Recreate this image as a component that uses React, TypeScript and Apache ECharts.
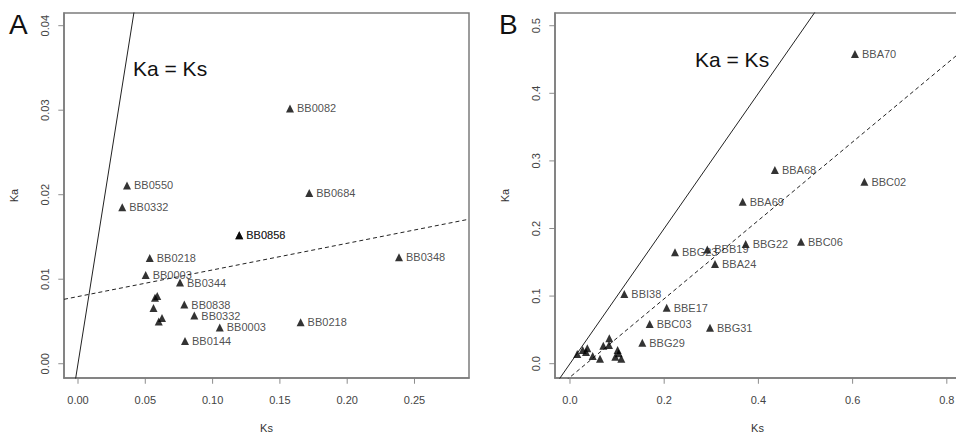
import React, { useEffect, useRef } from "react";
import * as echarts from "echarts";

// ---------- Panel A data ----------
const namesA = ["BB0082", "BB0684", "BB0550", "BB0332", "BB0858", "BB0856", "BB0218", "BB0003", "BB0344", "BB0348", "BB0838", "BB0332", "BB0003", "BB0218", "BB0144", "", "", "", "", ""];
const ksA = [0.1575, 0.1718, 0.0364, 0.0329, 0.1198, 0.1198, 0.0533, 0.0503, 0.0758, 0.2385, 0.079, 0.0864, 0.1053, 0.1654, 0.0795, 0.0572, 0.0589, 0.0561, 0.06, 0.0624];
const kaA = [0.0302, 0.0202, 0.0211, 0.0185, 0.0152, 0.0152, 0.0125, 0.0105, 0.0096, 0.0126, 0.007, 0.0057, 0.0043, 0.0049, 0.0027, 0.0078, 0.008, 0.0066, 0.005, 0.0054];
const identityA = [[-0.01, -0.01], [0.05, 0.05]];
const regressionA = [[-0.0104, 0.00762], [0.2905, 0.0171]];
const xTickValsA = [0, 0.05, 0.1, 0.15, 0.2, 0.25];
const xTickLabelsA = ["0.00", "0.05", "0.10", "0.15", "0.20", "0.25"];
const yTickValsA = [0, 0.01, 0.02, 0.03, 0.04];
const yTickLabelsA = ["0.00", "0.01", "0.02", "0.03", "0.04"];

// ---------- Panel B data ----------
const namesB = ["BBA70", "BBA68", "BBC02", "BBA69", "BBG22", "BBC06", "BBB19", "BBG23", "BBA24", "BBI38", "BBE17", "BBC03", "BBG29", "BBG31", "", "", "", "", "", "", "", "", "", "", "", "", ""];
const ksB = [0.605, 0.435, 0.625, 0.3666, 0.373, 0.4904, 0.2915, 0.2229, 0.3079, 0.1153, 0.2053, 0.1692, 0.1535, 0.2972, 0.0155, 0.027, 0.0368, 0.034, 0.0482, 0.0637, 0.0707, 0.0835, 0.0828, 0.1012, 0.1034, 0.0962, 0.109];
const kaB = [0.458, 0.2865, 0.269, 0.2397, 0.177, 0.1805, 0.169, 0.1648, 0.1475, 0.103, 0.0828, 0.0587, 0.031, 0.0533, 0.0144, 0.0203, 0.0228, 0.0173, 0.0114, 0.0074, 0.0266, 0.0376, 0.0277, 0.0203, 0.0154, 0.0104, 0.0074];
const identityB = [[-0.05, -0.05], [0.6, 0.6]];
const regressionB = [[-0.0318, -0.0384], [0.828, 0.4602]];
const xTickValsB = [0, 0.2, 0.4, 0.6, 0.8];
const xTickLabelsB = ["0.0", "0.2", "0.4", "0.6", "0.8"];
const yTickValsB = [0, 0.1, 0.2, 0.3, 0.4, 0.5];
const yTickLabelsB = ["0.0", "0.1", "0.2", "0.3", "0.4", "0.5"];

// axis ranges [min, max]
const xRangeA = [-0.0104, 0.2905];
const yRangeA = [-0.00169, 0.0415];
const xRangeB = [-0.0318, 0.828];
const yRangeB = [-0.0212, 0.5188];

const FONT = "'Liberation Sans', Arial, Helvetica, sans-serif";
const BOX = "#7c7c7c";
const TICK = "#707070";

function lookup(vals: number[], labels: string[]) {
  return (v: number) => {
    for (let i = 0; i < vals.length; i++) {
      if (Math.abs(vals[i] - v) < 1e-9) return labels[i];
    }
    return "";
  };
}

function xAxisFor(gridIndex: number, range: number[], vals: number[], labels: string[]) {
  return {
    type: "value",
    gridIndex,
    position: "bottom",
    min: range[0],
    max: range[1],
    name: "Ks",
    nameLocation: "middle",
    nameGap: 44,
    nameTextStyle: { color: "#333", fontSize: 11, fontFamily: FONT },
    axisLine: { show: true, onZero: false, lineStyle: { color: BOX, width: 1.5 } },
    splitLine: { show: false },
    axisTick: { show: false },
    axisLabel: {
      customValues: vals,
      formatter: lookup(vals, labels),
      margin: 16,
      color: "#444",
      fontSize: 11,
      fontFamily: FONT,
    },
  };
}

function yAxisFor(gridIndex: number, range: number[], vals: number[], labels: string[]) {
  return {
    type: "value",
    gridIndex,
    position: "left",
    min: range[0],
    max: range[1],
    name: "Ka",
    nameLocation: "middle",
    nameGap: 45,
    nameRotate: 90,
    nameTextStyle: { color: "#333", fontSize: 11, fontFamily: FONT },
    axisLine: { show: true, onZero: false, lineStyle: { color: BOX, width: 1.5 } },
    splitLine: { show: false },
    axisTick: { show: false },
    axisLabel: {
      customValues: vals,
      formatter: lookup(vals, labels),
      rotate: 90,
      margin: 14,
      color: "#444",
      fontSize: 11,
      fontFamily: FONT,
    },
  };
}

// outward tick marks, placed through the axis scales at the axis edge
function tickSeries(idx: number, xVals: number[], yVals: number[], xRange: number[], yRange: number[]) {
  return [
    {
      type: "scatter",
      xAxisIndex: idx,
      yAxisIndex: idx,
      clip: false,
      silent: true,
      symbol: "rect",
      symbolSize: [1, 5],
      symbolOffset: [0, 3.2],
      itemStyle: { color: TICK },
      data: xVals.map((v) => [v, yRange[0]]),
      z: 1,
    },
    {
      type: "scatter",
      xAxisIndex: idx,
      yAxisIndex: idx,
      clip: false,
      silent: true,
      symbol: "rect",
      symbolSize: [5, 1],
      symbolOffset: [-3.2, 0],
      itemStyle: { color: TICK },
      data: yVals.map((v) => [xRange[0], v]),
      z: 1,
    },
  ];
}

function scatterSeries(idx: number, names: string[], ks: number[], ka: number[]) {
  return {
    type: "scatter",
    xAxisIndex: idx,
    yAxisIndex: idx,
    symbol: "triangle",
    symbolSize: 8,
    itemStyle: { color: "#000" },
    data: ks.map((k, i) => ({ name: names[i], value: [k, ka[i]] })),
    label: {
      show: true,
      position: "right",
      distance: 3,
      formatter: "{b}",
      color: "#222",
      fontSize: 11,
      fontFamily: FONT,
    },
    silent: true,
    z: 3,
  };
}

function lineSeries(idx: number, data: number[][], dashed: boolean) {
  return {
    type: "line",
    xAxisIndex: idx,
    yAxisIndex: idx,
    data,
    symbol: "none",
    clip: true,
    lineStyle: { color: "#222", width: 1, type: dashed ? [4, 3] : "solid" },
    silent: true,
    z: 2,
  };
}

export default function App() {
  const ref = useRef<HTMLDivElement>(null);
  useEffect(() => {
    if (!ref.current) return;
    const chart = echarts.init(ref.current, undefined, { renderer: "svg" });
    chart.setOption({
      animation: false,
      backgroundColor: "#fff",
      grid: [
        { left: 64, top: 13, width: 405, height: 365, show: true, borderColor: BOX, borderWidth: 1.5, backgroundColor: "transparent", containLabel: false, outerBoundsMode: "none" },
        { left: 555, top: 13, width: 405, height: 365, show: true, borderColor: BOX, borderWidth: 1.5, backgroundColor: "transparent", containLabel: false, outerBoundsMode: "none" },
      ],
      xAxis: [
        xAxisFor(0, xRangeA, xTickValsA, xTickLabelsA),
        xAxisFor(1, xRangeB, xTickValsB, xTickLabelsB),
      ],
      yAxis: [
        yAxisFor(0, yRangeA, yTickValsA, yTickLabelsA),
        yAxisFor(1, yRangeB, yTickValsB, yTickLabelsB),
      ],
      series: [
        ...tickSeries(0, xTickValsA, yTickValsA, xRangeA, yRangeA),
        ...tickSeries(1, xTickValsB, yTickValsB, xRangeB, yRangeB),
        lineSeries(0, identityA, false),
        lineSeries(0, regressionA, true),
        scatterSeries(0, namesA, ksA, kaA),
        lineSeries(1, identityB, false),
        lineSeries(1, regressionB, true),
        scatterSeries(1, namesB, ksB, kaB),
      ],
      graphic: [
        { type: "text", left: 9, top: 10, style: { text: "A", fontSize: 28, fontFamily: FONT, fill: "#111" } },
        { type: "text", left: 499, top: 10, style: { text: "B", fontSize: 28, fontFamily: FONT, fill: "#111" } },
        { type: "text", left: 133, top: 58, style: { text: "Ka = Ks", fontSize: 21, fontFamily: FONT, fill: "#111" } },
        { type: "text", left: 695, top: 49, style: { text: "Ka = Ks", fontSize: 21, fontFamily: FONT, fill: "#111" } },
      ],
    });
    return () => chart.dispose();
  }, []);
  return <div ref={ref} style={{ position: "fixed", left: 0, top: 0, width: 956, height: 434, background: "#fff" }} />;
}
